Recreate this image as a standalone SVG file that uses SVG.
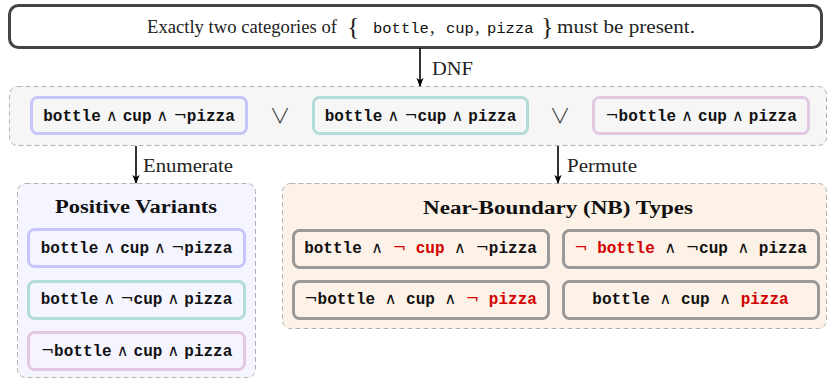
<svg xmlns="http://www.w3.org/2000/svg" width="828" height="379" viewBox="0 0 828 379">
<style>
.serif{font-family:"Liberation Serif","Times New Roman",serif;fill:#222}
.mono{font-family:"Liberation Mono","DejaVu Sans Mono",monospace}
.term{font-family:"Liberation Mono","DejaVu Sans Mono",monospace;font-size:16px;font-weight:bold;fill:#111;text-anchor:middle}
.nbt{font-family:"Liberation Mono","DejaVu Sans Mono",monospace;font-size:16px;font-weight:bold;fill:#111;text-anchor:middle}
.s{font-family:"DejaVu Sans",sans-serif;font-weight:normal}
.red{fill:#d40000}
.cont{stroke:#b3b3b3;stroke-width:1;stroke-dasharray:5 3}
.tb{stroke-width:3;fill:none}
.nb{stroke:#999;stroke-width:3;fill:none}
.lbl{font-family:"Liberation Serif","Times New Roman",serif;font-size:18px;fill:#222}
.title{font-family:"Liberation Serif","Times New Roman",serif;font-size:18px;font-weight:bold;fill:#111;text-anchor:middle}
.vee{font-family:"Noto Sans CJK JP","DejaVu Sans",sans-serif;font-size:21px;font-weight:200;fill:#333;text-anchor:middle}
.arr{stroke:#000;stroke-width:1.6;fill:none}
</style>
<defs>
<marker id="ah" viewBox="0 0 10 10" refX="9" refY="5" markerWidth="9" markerHeight="10" markerUnits="userSpaceOnUse" orient="auto">
<path d="M0,1 L10,5 L0,9 L2.5,5 z" fill="#000"/>
</marker>
</defs>

<g id="constraint">
<rect x="9.5" y="5.5" width="812" height="42" rx="9" fill="#fff" stroke="#444" stroke-width="3"/>
<text class="serif" x="147" y="33" font-size="18.5" textLength="190" lengthAdjust="spacingAndGlyphs">Exactly two categories of</text>
<text class="serif" x="347" y="35" font-size="26">{</text>
<text class="mono" x="373" y="33" font-size="15.5" fill="#111">bottle</text>
<text class="serif" x="430" y="33" font-size="18.5">,</text>
<text class="mono" x="446" y="33" font-size="15.5" fill="#111">cup</text>
<text class="serif" x="475" y="33" font-size="18.5">,</text>
<text class="mono" x="487" y="33" font-size="15.5" fill="#111">pizza</text>
<text class="serif" x="541" y="35" font-size="26">}</text>
<text class="serif" x="557" y="33" font-size="18.5" textLength="138" lengthAdjust="spacingAndGlyphs">must be present.</text>
</g>

<g id="dnf">
<rect class="cont" x="9.5" y="86.5" width="817" height="59" rx="8" fill="#f6f6f6"/>
<rect class="tb" x="31.5" y="97.5" width="215" height="36" rx="6" stroke="#c6c6fb"/>
<text class="term" x="139" y="121" xml:space="preserve">bottle<tspan class="s"> ∧ </tspan>cup<tspan class="s"> ∧ ¬</tspan>pizza</text>
<text class="vee" x="280" y="123">∨</text>
<rect class="tb" x="313.5" y="97.5" width="214" height="36" rx="6" stroke="#b2dcd8"/>
<text class="term" x="420.5" y="121" xml:space="preserve">bottle<tspan class="s"> ∧ ¬</tspan>cup<tspan class="s"> ∧ </tspan>pizza</text>
<text class="vee" x="560" y="123">∨</text>
<rect class="tb" x="593.5" y="97.5" width="215" height="36" rx="6" stroke="#e3c8e2"/>
<text class="term" x="701" y="121" xml:space="preserve"><tspan class="s">¬</tspan>bottle<tspan class="s"> ∧ </tspan>cup<tspan class="s"> ∧ </tspan>pizza</text>
</g>

<g id="positive">
<rect class="cont" x="17.5" y="183.5" width="238" height="194" rx="8" fill="#f5f5ff"/>
<text class="title" x="136" y="213" textLength="162" lengthAdjust="spacingAndGlyphs">Positive Variants</text>
<rect class="tb" x="28.5" y="229.5" width="216" height="37" rx="6" stroke="#c6c6fb"/>
<text class="term" x="136.5" y="253" xml:space="preserve">bottle<tspan class="s"> ∧ </tspan>cup<tspan class="s"> ∧ ¬</tspan>pizza</text>
<rect class="tb" x="28.5" y="281.5" width="216" height="37" rx="6" stroke="#b2dcd8"/>
<text class="term" x="136.5" y="304" xml:space="preserve">bottle<tspan class="s"> ∧ ¬</tspan>cup<tspan class="s"> ∧ </tspan>pizza</text>
<rect class="tb" x="28.5" y="332.5" width="216" height="37" rx="6" stroke="#e3c8e2"/>
<text class="term" x="136.5" y="356" xml:space="preserve"><tspan class="s">¬</tspan>bottle<tspan class="s"> ∧ </tspan>cup<tspan class="s"> ∧ </tspan>pizza</text>
</g>

<g id="nearboundary">
<rect class="cont" x="282.5" y="183.5" width="544" height="145" rx="8" fill="#fdf2e7"/>
<text class="title" x="558" y="214" textLength="270" lengthAdjust="spacingAndGlyphs">Near-Boundary (NB) Types</text>
<rect class="nb" x="293.5" y="230.5" width="255" height="37" rx="6"/>
<text class="nbt" x="420.5" y="253" xml:space="preserve">bottle <tspan class="s">∧</tspan> <tspan class="red"><tspan class="s">¬</tspan> cup</tspan> <tspan class="s">∧</tspan> <tspan class="s">¬</tspan>pizza</text>
<rect class="nb" x="563.5" y="230.5" width="255" height="37" rx="6"/>
<text class="nbt" x="690.5" y="253" xml:space="preserve"><tspan class="red"><tspan class="s">¬</tspan> bottle</tspan> <tspan class="s">∧</tspan> <tspan class="s">¬</tspan>cup <tspan class="s">∧</tspan> pizza</text>
<rect class="nb" x="293.5" y="281.5" width="255" height="37" rx="6"/>
<text class="nbt" x="420.5" y="304" xml:space="preserve"><tspan class="s">¬</tspan>bottle <tspan class="s">∧</tspan> cup <tspan class="s">∧</tspan> <tspan class="red"><tspan class="s">¬</tspan> pizza</tspan></text>
<rect class="nb" x="563.5" y="281.5" width="255" height="37" rx="6"/>
<text class="nbt" x="690.5" y="304" xml:space="preserve">bottle <tspan class="s">∧</tspan> cup <tspan class="s">∧</tspan> <tspan class="red">pizza</tspan></text>
</g>

<g id="connectors">
<path class="arr" d="M420,48 L420,86" marker-end="url(#ah)"/>
<text class="lbl" x="432" y="75" textLength="41" lengthAdjust="spacingAndGlyphs">DNF</text>
<path class="arr" d="M136,146 L136,183" marker-end="url(#ah)"/>
<text class="lbl" x="143" y="172" textLength="90" lengthAdjust="spacingAndGlyphs">Enumerate</text>
<path class="arr" d="M558,146 L558,183" marker-end="url(#ah)"/>
<text class="lbl" x="567" y="172" textLength="70" lengthAdjust="spacingAndGlyphs">Permute</text>
</g>
</svg>
